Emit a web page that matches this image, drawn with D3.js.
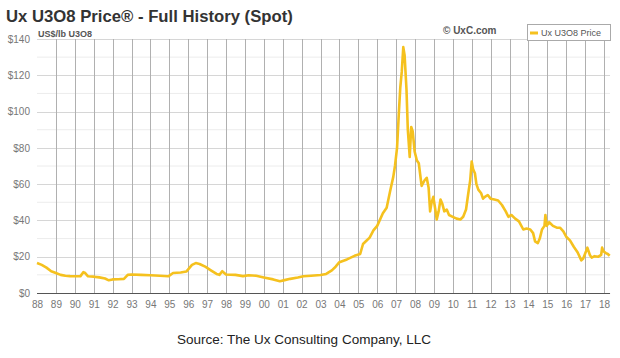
<!DOCTYPE html>
<html><head><meta charset="utf-8">
<script src="https://cdn.jsdelivr.net/npm/d3@7"></script>
<style>body{margin:0;background:#fff;} svg{display:block;font-family:"Liberation Sans",Arial,sans-serif;}</style>
</head><body><svg id="c" width="620" height="358"></svg>
<script>
const title = "Ux U3O8 Price® - Full History (Spot)";
const unitLabel = "US$/lb U3O8";
const copyright = "© UxC.com";
const seriesName = "Ux U3O8 Price";
const source = "Source: The Ux Consulting Company, LLC";
const yTicks = [0, 20, 40, 60, 80, 100, 120, 140];
const xTickYears = d3.range(1988, 2019);
const dates = [1988.0,1988.25,1988.5,1988.75,1989.0,1989.25,1989.5,1989.75,1990.0,1990.3,1990.45,1990.55,1990.7,1991.0,1991.3,1991.6,1991.8,1992.0,1992.3,1992.6,1992.8,1993.0,1993.5,1994.0,1994.5,1994.95,1995.2,1995.6,1995.9,1996.2,1996.4,1996.6,1996.9,1997.2,1997.5,1997.65,1997.8,1998.0,1998.5,1998.9,1999.2,1999.6,2000.0,2000.5,2000.85,2001.1,2001.4,2001.8,2002.1,2002.5,2003.0,2003.3,2003.6,2003.8,2004.0,2004.4,2004.8,2005.1,2005.25,2005.4,2005.6,2005.8,2006.0,2006.3,2006.5,2006.68,2006.85,2006.94,2007.05,2007.15,2007.22,2007.3,2007.38,2007.45,2007.55,2007.62,2007.72,2007.8,2007.88,2007.98,2008.1,2008.2,2008.35,2008.5,2008.62,2008.72,2008.8,2008.88,2008.97,2009.06,2009.15,2009.25,2009.35,2009.45,2009.55,2009.68,2009.8,2010.0,2010.2,2010.4,2010.55,2010.7,2010.82,2010.92,2011.0,2011.08,2011.17,2011.25,2011.35,2011.5,2011.6,2011.7,2011.85,2012.0,2012.2,2012.4,2012.6,2012.8,2012.94,2013.1,2013.3,2013.5,2013.73,2013.9,2014.1,2014.25,2014.35,2014.5,2014.6,2014.72,2014.85,2014.9,2014.97,2015.1,2015.3,2015.5,2015.67,2015.85,2016.0,2016.2,2016.4,2016.6,2016.8,2016.9,2017.05,2017.12,2017.25,2017.35,2017.5,2017.7,2017.85,2017.9,2017.97,2018.1,2018.2,2018.3];
const prices = [16.5,15.5,14,12,11,10,9.5,9.3,9.2,9.3,11.5,11.0,9.2,9.0,8.6,8.0,7.0,7.5,7.6,7.8,10.0,10.2,10.0,9.8,9.5,9.2,11.0,11.3,11.8,15.5,16.5,16.0,14.5,12.5,10.5,10.0,12.0,10.2,10.0,9.3,9.8,9.5,8.5,7.5,6.5,7.1,7.8,8.5,9.2,9.5,9.9,10.5,12.5,14.5,17,18.5,20.5,21.5,27,28.5,30.5,34.5,37,44,47,56,64,70,80,100,113,122,135.5,131,112,90,75,91.5,89,78,73,71.5,59,62,63.5,58,45,50,53,47,40.5,45,51.5,49,45,46,43,42,41,40.5,42,46,55,62,72.5,68,66,60,57,55,52,53,54,52,51.5,51,48.5,45,42,43,41,39.5,35,35.5,35,33,28.5,27.5,30,35,37,43,37,39,37,36,36,34,31,29,25.5,22.5,18,19,23,25,21,19.5,20.3,20,21,25,23,22,21.5,20.5];

const svg = d3.select("#c");
const x = d3.scaleLinear().domain([1988, 2018]).range([37, 604]);
const y = d3.scaleLinear().domain([0, 140]).range([293, 39]);
const xEnd = x(2018.32);

// minor horizontal grid
svg.append("g").selectAll("line").data(d3.range(10, 140, 20)).join("line")
  .attr("x1", x(1988)).attr("x2", xEnd).attr("y1", d => y(d)).attr("y2", d => y(d))
  .attr("stroke", "#ececec").attr("stroke-width", 1);
// major horizontal grid
svg.append("g").selectAll("line").data(yTicks.slice(1)).join("line")
  .attr("x1", x(1988)).attr("x2", xEnd).attr("y1", d => Math.round(y(d)) + 0.5).attr("y2", d => Math.round(y(d)) + 0.5)
  .attr("stroke", "#d6d6d6").attr("stroke-width", 1);
// vertical grid
svg.append("g").selectAll("line").data(xTickYears.slice(1)).join("line")
  .attr("x1", d => Math.round(x(d)) + 0.5).attr("x2", d => Math.round(x(d)) + 0.5)
  .attr("y1", y(140)).attr("y2", y(0))
  .attr("stroke", "#b0b0b0").attr("stroke-width", 1);

// x axis
const xAxis = d3.axisBottom(x).tickValues(xTickYears).tickSize(0).tickPadding(8)
  .tickFormat(d => String(d % 100).padStart(2, "0"));
const gx = svg.append("g").attr("transform", `translate(0,${y(0)})`).call(xAxis);
gx.select(".domain").remove();
gx.selectAll("text").attr("fill", "#777").style("font-size", "10px").style("font-family", "Liberation Sans, Arial, sans-serif");
svg.append("line").attr("x1", x(1988)).attr("x2", xEnd).attr("y1", y(0) + 0.5).attr("y2", y(0) + 0.5)
  .attr("stroke", "#555").attr("stroke-width", 1.2);

// y axis
const yAxis = d3.axisLeft(y).tickValues(yTicks).tickSize(0).tickPadding(7).tickFormat(d => "$" + d);
const gy = svg.append("g").attr("transform", `translate(${x(1988)},0)`).call(yAxis);
gy.select(".domain").remove();
gy.selectAll("text").attr("fill", "#777").style("font-size", "10px").style("font-family", "Liberation Sans, Arial, sans-serif");

// line
const data = dates.map((d, i) => ({ t: d, v: prices[i] }));
svg.append("path").datum(data)
  .attr("fill", "none").attr("stroke", "#f5c11e").attr("stroke-width", 2.6)
  .attr("stroke-linejoin", "round")
  .attr("d", d3.line().x(d => x(d.t)).y(d => y(d.v)));

// texts
svg.append("text").attr("x", 6).attr("y", 22).text(title)
  .attr("fill", "#333").style("font-size", "16.7px").style("font-weight", "bold");
svg.append("text").attr("x", 38).attr("y", 37).text(unitLabel)
  .attr("fill", "#555").style("font-size", "9px").style("font-weight", "bold");
svg.append("text").attr("x", 443).attr("y", 34).text(copyright)
  .attr("fill", "#555").style("font-size", "10px").style("font-weight", "bold");

// legend
const lg = svg.append("g");
lg.append("rect").attr("x", 527.5).attr("y", 24.5).attr("width", 83).attr("height", 16)
  .attr("fill", "#fff").attr("stroke", "#aaa");
lg.append("line").attr("x1", 530).attr("x2", 538).attr("y1", 33).attr("y2", 33)
  .attr("stroke", "#f5c11e").attr("stroke-width", 3);
lg.append("text").attr("x", 541).attr("y", 36).text(seriesName)
  .attr("fill", "#555").style("font-size", "9px");

svg.append("text").attr("x", 304).attr("y", 344).attr("text-anchor", "middle").text(source)
  .attr("fill", "#222").style("font-size", "13.5px");
</script>
</body></html>
